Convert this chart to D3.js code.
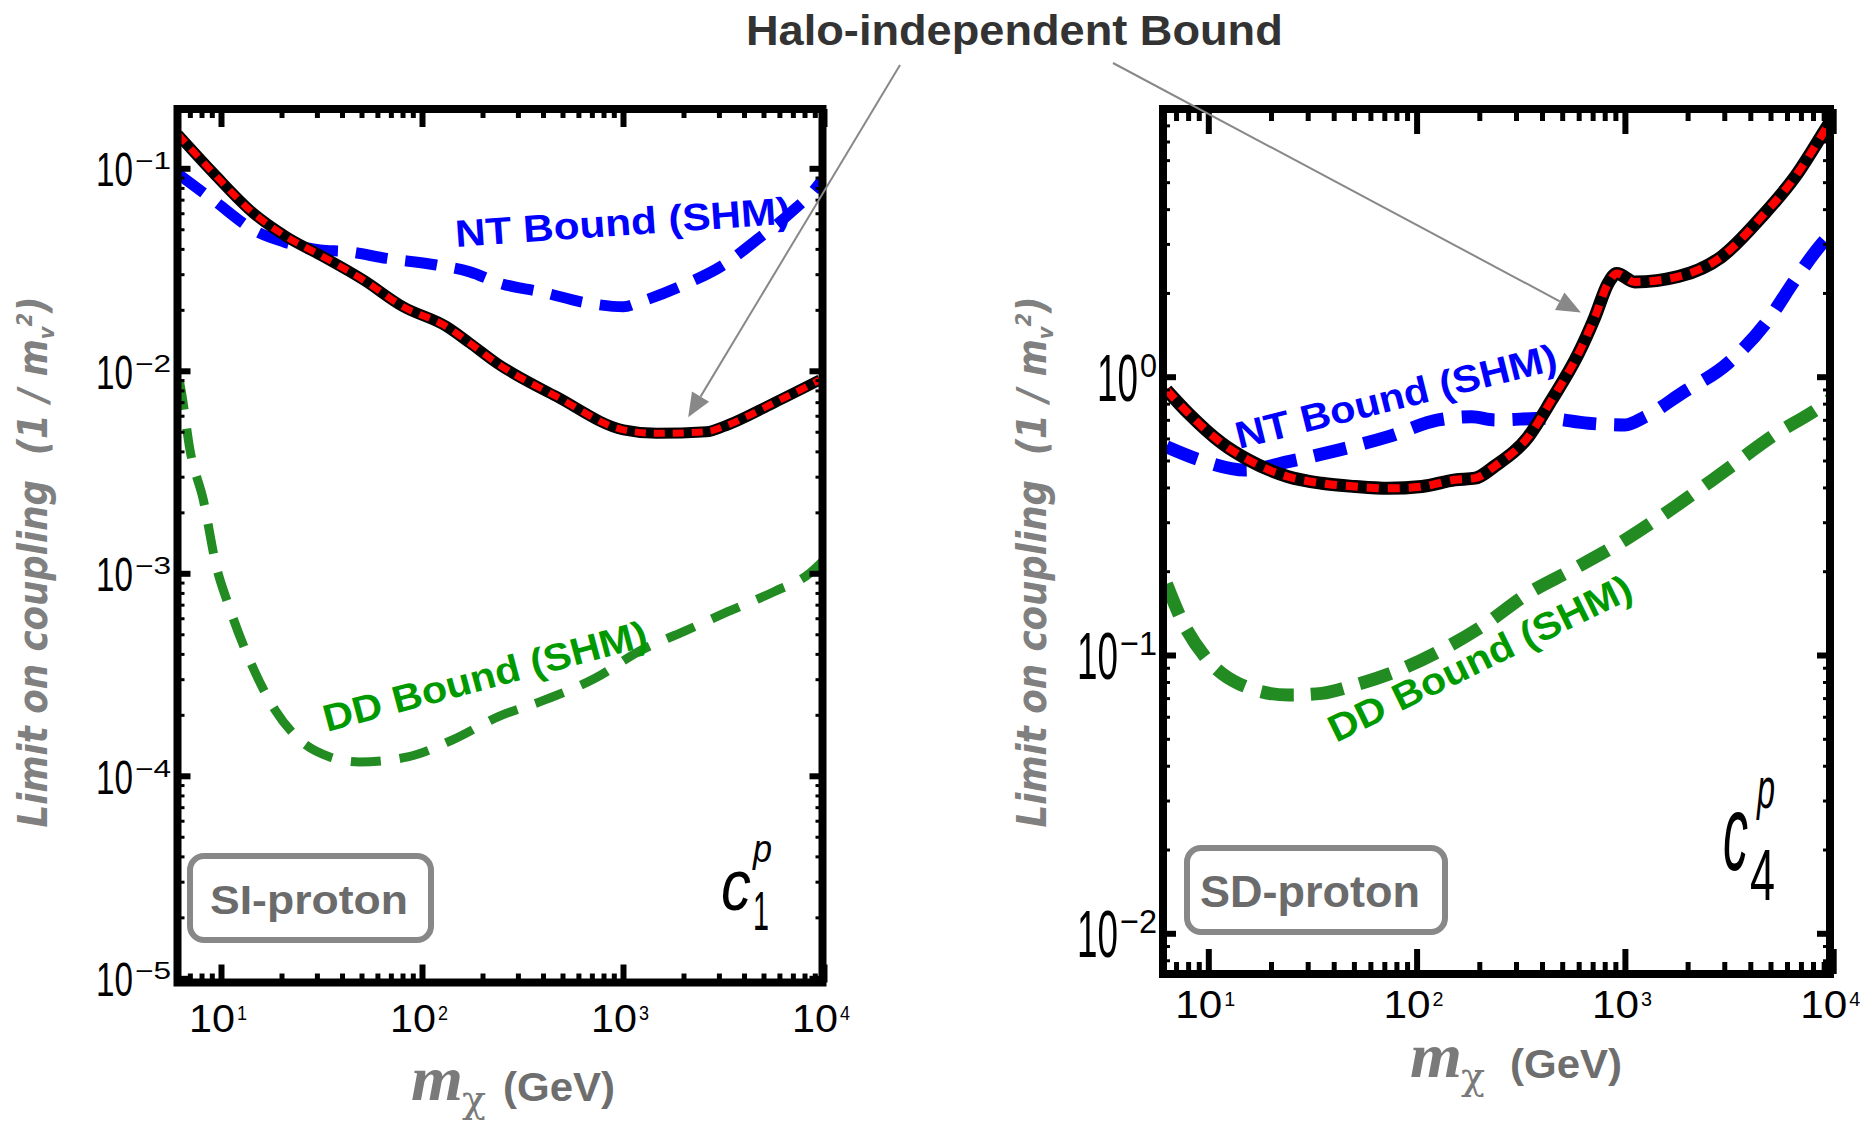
<!DOCTYPE html>
<html>
<head>
<meta charset="utf-8">
<title>Halo-independent Bound</title>
<script src="https://cdn.jsdelivr.net/npm/d3@7"></script>
<style>
  body { margin: 0; background: #fff; overflow: hidden; }
  svg { display: block; }
</style>
</head>
<body>
<script>
var W = 1874, H = 1123;

// mass ticks (GeV), same for both panels
var massTicks = [10, 100, 1000, 10000];
var massTickExp = ["1", "2", "3", "4"];

// ---- SI-proton panel (c1^p) ----
var siYTicks = [1e-1, 1e-2, 1e-3, 1e-4, 1e-5];
var siYTickExp = ["\u22121", "\u22122", "\u22123", "\u22124", "\u22125"];

var siHaloMass  = [6.1, 9.2, 14.5, 21.2, 31.1, 51.1, 80.7, 133, 173, 236, 468, 1005, 1472, 2606, 3155, 5598, 9550];
var siHaloLimit = [0.147, 0.0944, 0.060, 0.0459, 0.0373, 0.0281, 0.0207, 0.0165, 0.0137, 0.0109, 0.00745, 0.00511, 0.00491, 0.00500, 0.00530, 0.00692, 0.00902];

var siNtMass  = [6.1, 9.16, 15.1, 20.4, 31.1, 42.2, 66.7, 118, 173, 245, 386, 685, 1005, 1217, 1995, 3155, 4624, 6776, 9376, 9800];
var siNtLimit = [0.094, 0.0697, 0.0486, 0.0434, 0.0395, 0.0388, 0.0359, 0.0333, 0.0308, 0.0270, 0.0246, 0.0215, 0.0207, 0.0219, 0.0265, 0.0333, 0.0443, 0.0600, 0.0828, 0.088];

var siDdMass  = [6.2, 6.37, 7.01, 8.17, 9.48, 10.9, 14.6, 18.6, 23.7, 34.8, 48.9, 84.9, 141, 240, 408, 726, 1236, 2000, 3319, 5636, 8492, 9800];
var siDdLimit = [0.0090, 0.00774, 0.00406, 0.00230, 0.00108, 6.97e-4, 3.33e-4, 2.11e-4, 1.56e-4, 1.24e-4, 1.17e-4, 1.24e-4, 1.50e-4, 1.96e-4, 2.37e-4, 3.03e-4, 4.18e-4, 5.15e-4, 6.46e-4, 8.11e-4, 1.0e-3, 1.14e-3];

// ---- SD-proton panel (c4^p) ----
var sdYTicks = [1, 1e-1, 1e-2];
var sdYTickExp = ["0", "\u22121", "\u22122"];

var sdHaloMass  = [6.3, 8.02, 11.6, 15.6, 24.2, 35.0, 50.6, 73.1, 106, 153, 191, 238, 344, 445, 598, 718, 832, 914, 1117, 1803, 2915, 4539, 6561, 9141, 9700];
var sdHaloLimit = [0.896, 0.739, 0.577, 0.502, 0.437, 0.414, 0.403, 0.397, 0.403, 0.426, 0.432, 0.478, 0.609, 0.825, 1.21, 1.64, 2.17, 2.35, 2.19, 2.29, 2.70, 3.76, 5.23, 7.70, 8.26];

var sdNtMass  = [6.3, 9.64, 15.0, 24.2, 42.1, 73.1, 127, 184, 238, 413, 667, 1000, 1250, 1875, 3133, 4875, 6561, 9141, 9700];
var sdNtLimit = [0.56, 0.495, 0.462, 0.495, 0.545, 0.609, 0.699, 0.718, 0.699, 0.709, 0.680, 0.671, 0.718, 0.872, 1.12, 1.60, 2.23, 3.10, 3.25];

var sdDdMass  = [6.3, 7.45, 9.64, 13.9, 24.2, 35.0, 50.6, 78.7, 127, 205, 344, 556, 1000, 1738, 2915, 5070, 9141, 9700];
var sdDdLimit = [0.18, 0.1336, 0.0986, 0.0791, 0.0718, 0.0728, 0.0780, 0.0871, 0.1028, 0.1264, 0.1666, 0.202, 0.259, 0.341, 0.450, 0.609, 0.802, 0.83];

var narrow = "'Liberation Sans Narrow', 'Liberation Sans', Arial, sans-serif";
var sans = "'Liberation Sans', Arial, sans-serif";
var serif = "'Liberation Serif', 'DejaVu Serif', serif";

var svg = d3.select("body").append("svg")
    .attr("width", W)
    .attr("height", H);

function zip(a, b) {
    return a.map(function(d, i) { return [d, b[i]]; });
}

function minors(lo, hi) {
    var out = [];
    for (var e = -6; e <= 4; e++) {
        for (var k = 2; k <= 9; k++) {
            var v = k * Math.pow(10, e);
            if (v > lo && v < hi) out.push(v);
        }
    }
    return out;
}

// squeeze a text to a given width with a horizontal scale
function fit(t, x, y, width, rot) {
    var w0 = t.node().getComputedTextLength();
    t.attr("transform", "translate(" + x + "," + y + ")" +
        (rot ? " rotate(" + rot + ")" : "") +
        " scale(" + (width / w0) + ",1)");
    return t;
}

function txt(g, text, font, size, color) {
    return g.append("text")
        .attr("font-family", font)
        .attr("font-size", size)
        .attr("fill", color)
        .text(text);
}

// "10" with a superscript exponent
function powLabel(g, x, y, exp, o) {
    var w = exp.length > 1 ? o.len2 : o.len1;
    var left = o.anchor === "end" ? x - w : x - w / 2;
    fit(txt(g, "10", narrow, o.size, "#000"), left, y, o.baseLen);
    fit(txt(g, exp, narrow, o.supSize, "#000"), left + o.baseLen + 2, y + o.supDy, w - o.baseLen - 2);
}

function drawPanel(p) {
    var x = d3.scaleLog().domain([10, 1e4]).range(p.xRange);
    var y = d3.scaleLog().domain(p.yDomain).range(p.yRange);
    var b = p.box;
    var g = svg.append("g");

    var clipId = "clip" + p.id;
    g.append("clipPath").attr("id", clipId)
        .append("rect")
        .attr("x", b.x0).attr("y", b.y0)
        .attr("width", b.x1 - b.x0).attr("height", b.y1 - b.y0);

    var plot = g.append("g").attr("clip-path", "url(#" + clipId + ")");

    var line = d3.line()
        .x(function(d) { return x(d[0]); })
        .y(function(d) { return y(d[1]); })
        .curve(d3.curveMonotoneX);

    plot.append("path").datum(p.dd)
        .attr("d", line).attr("fill", "none")
        .attr("stroke", "#228b22").attr("stroke-width", p.ddW)
        .attr("stroke-dasharray", p.ddDash);

    plot.append("path").datum(p.nt)
        .attr("d", line).attr("fill", "none")
        .attr("stroke", "#0000ff").attr("stroke-width", p.ntW)
        .attr("stroke-dasharray", p.ntDash);

    plot.append("path").datum(p.halo)
        .attr("d", line).attr("fill", "none")
        .attr("stroke", "#000").attr("stroke-width", p.haloW)
        .attr("stroke-linejoin", "round");

    plot.append("path").datum(p.halo)
        .attr("d", line).attr("fill", "none")
        .attr("stroke", "#ff0000").attr("stroke-width", p.redW)
        .attr("stroke-dasharray", p.redDash);

    // frame
    g.append("rect")
        .attr("x", b.x0).attr("y", b.y0)
        .attr("width", b.x1 - b.x0).attr("height", b.y1 - b.y0)
        .attr("fill", "none").attr("stroke", "#000").attr("stroke-width", 8);

    // ticks, all pointing into the plot
    var xMin = minors(x.invert(b.x0 + 4), x.invert(b.x1 - 4));
    var yLo = y.invert(b.y1 - 4), yHi = y.invert(b.y0 + 4);
    var yMin = minors(yLo, yHi);
    var yMaj = p.yTicks.filter(function(v) { return v >= yLo && v <= yHi; });

    function tickAxis(axis, tx, ty, width) {
        var a = g.append("g").attr("transform", "translate(" + tx + "," + ty + ")").call(axis);
        a.select(".domain").remove();
        a.selectAll("line").attr("stroke", "#000").attr("stroke-width", width);
    }
    tickAxis(d3.axisBottom(x).tickValues(massTicks).tickSize(-p.majorLen).tickFormat(""), 0, b.y1, 6);
    tickAxis(d3.axisBottom(x).tickValues(xMin).tickSize(-p.minorLen).tickFormat(""), 0, b.y1, 5);
    tickAxis(d3.axisTop(x).tickValues(massTicks).tickSize(-p.majorLen).tickFormat(""), 0, b.y0, 6);
    tickAxis(d3.axisTop(x).tickValues(xMin).tickSize(-p.minorLen).tickFormat(""), 0, b.y0, 5);
    tickAxis(d3.axisLeft(y).tickValues(yMaj).tickSize(-13).tickFormat(""), b.x0, 0, 6);
    tickAxis(d3.axisLeft(y).tickValues(yMin).tickSize(-7).tickFormat(""), b.x0, 0, 3);
    tickAxis(d3.axisRight(y).tickValues(yMaj).tickSize(-13).tickFormat(""), b.x1, 0, 6);
    tickAxis(d3.axisRight(y).tickValues(yMin).tickSize(-7).tickFormat(""), b.x1, 0, 3);

    // tick labels
    massTicks.forEach(function(v, i) {
        powLabel(g, x(v) - 3, p.xLab.base, massTickExp[i], p.xLab);
    });
    p.yTicks.forEach(function(v, i) {
        powLabel(g, p.yLab.right, y(v) + p.yLab.shift, p.yTickExp[i], p.yLab);
    });

    // y axis title
    var yt = g.append("text")
        .attr("text-anchor", "middle")
        .attr("font-family", "'DejaVu Sans', sans-serif")
        .attr("font-weight", "bold").attr("font-style", "italic")
        .attr("font-size", 40).attr("fill", "#808080");
    yt.append("tspan").text("Limit on coupling\u00a0\u00a0(1 / m");
    yt.append("tspan").attr("font-size", 22).attr("dy", 7).text("v");
    yt.append("tspan").attr("font-size", 22).attr("dy", -22).text("2");
    yt.append("tspan").attr("dy", 15).text(")");
    fit(yt, p.yTitleX, 562, 531, -90);

    // x axis title
    var xt = p.xTitle;
    fit(txt(g, "m", serif, 64, "#7a7a7a").attr("font-weight", "bold").attr("font-style", "italic"),
        xt.m, xt.base, 52);
    fit(txt(g, "\u03c7", "'DejaVu Serif', serif", 38, "#7a7a7a"), xt.m + 51, xt.base + 12, 24);
    fit(txt(g, "(GeV)", narrow, 40, "#6e6e6e").attr("font-weight", "bold"), xt.gev, xt.base + 1, 112);

    // curve labels
    function curveLabel(o, text, color) {
        fit(txt(g, text, sans, 38, color).attr("font-weight", "bold"), o.x, o.y, o.len, o.a);
    }
    curveLabel(p.ntLabel, "NT Bound (SHM)", "#0000ff");
    curveLabel(p.ddLabel, "DD Bound (SHM)", "#009a00");

    // interaction box
    var bx = p.tag;
    g.append("rect")
        .attr("x", bx.x).attr("y", bx.y).attr("width", bx.w).attr("height", bx.h)
        .attr("rx", 14).attr("ry", 14)
        .attr("fill", "#fff").attr("stroke", "#888").attr("stroke-width", 6);
    fit(txt(g, bx.text, narrow, bx.size, "#6b6b6b").attr("font-weight", "bold"), bx.tx, bx.ty, bx.tlen);

    // operator label c_i^p
    var c = p.coef;
    fit(txt(g, "c", narrow, c.cSize, "#000").attr("font-style", "italic"), c.cx, c.cy, c.cLen);
    fit(txt(g, "p", narrow, c.pSize, "#000").attr("font-style", "italic"), c.px, c.py, c.pLen);
    fit(txt(g, c.index, narrow, c.iSize, "#000"), c.ix, c.iy, c.iLen);

    return { x: x, y: y };
}

var si = drawPanel({
    id: "si",
    xRange: [221, 824],
    yDomain: [1e-1, 1e-5], yRange: [168.3, 978.3],
    box: { x0: 177.5, x1: 822.5, y0: 109, y1: 982.5 },
    yTicks: siYTicks, yTickExp: siYTickExp,
    halo: zip(siHaloMass, siHaloLimit),
    nt: zip(siNtMass, siNtLimit),
    dd: zip(siDdMass, siDdLimit),
    haloW: 11, redW: 7, redDash: "11,8",
    ntW: 11, ntDash: "32,18",
    ddW: 9, ddDash: "30,19",
    majorLen: 18, minorLen: 9,
    xLab: { anchor: "middle", base: 1032, size: 38, supSize: 20, supDy: -12, len1: 58, len2: 58, baseLen: 46 },
    yLab: { anchor: "end", right: 171, shift: 18, size: 49, supSize: 24, supDy: -17, len1: 56, len2: 75, baseLen: 37 },
    yTitleX: 47,
    xTitle: { m: 411, gev: 503, base: 1100 },
    ntLabel: { x: 456, y: 247, a: -4, len: 336 },
    ddLabel: { x: 327, y: 732, a: -15, len: 334 },
    tag: { x: 190, y: 856, w: 241, h: 84, text: "SI-proton", tx: 210, ty: 914, size: 40, tlen: 198 },
    coef: { cx: 721, cy: 910, cSize: 72, cLen: 30, px: 753, py: 862, pSize: 38, pLen: 19,
            ix: 753, iy: 930, iSize: 55, iLen: 16, index: "1" }
});

var sd = drawPanel({
    id: "sd",
    xRange: [1208.3, 1833.2],
    yDomain: [1, 1e-2], yRange: [376.7, 933.3],
    box: { x0: 1163, x1: 1830, y0: 109, y1: 974 },
    yTicks: sdYTicks, yTickExp: sdYTickExp,
    halo: zip(sdHaloMass, sdHaloLimit),
    nt: zip(sdNtMass, sdNtLimit),
    dd: zip(sdDdMass, sdDdLimit),
    haloW: 13, redW: 8, redDash: "12,9",
    ntW: 13, ntDash: "33,18",
    ddW: 13, ddDash: "33,17",
    majorLen: 25, minorLen: 12,
    xLab: { anchor: "middle", base: 1018, size: 38, supSize: 20, supDy: -12, len1: 60, len2: 60, baseLen: 47 },
    yLab: { anchor: "end", right: 1157, shift: 24, size: 66, supSize: 34, supDy: -24, len1: 60, len2: 80, baseLen: 41 },
    yTitleX: 1046,
    xTitle: { m: 1410, gev: 1510, base: 1077 },
    ntLabel: { x: 1239, y: 449, a: -14, len: 330 },
    ddLabel: { x: 1336, y: 743, a: -26, len: 333 },
    tag: { x: 1187, y: 848, w: 258, h: 84, text: "SD-proton", tx: 1200, ty: 907, size: 44, tlen: 220 },
    coef: { cx: 1723, cy: 870, cSize: 107, cLen: 25, px: 1757, py: 808, pSize: 58, pLen: 18,
            ix: 1750, iy: 900, iSize: 72, iLen: 25, index: "4" }
});

// title and arrows to the halo-independent curves
fit(txt(svg, "Halo-independent Bound", narrow, 43, "#333").attr("font-weight", "bold"), 746, 45, 537);

function arrow(x1, y1, x2, y2) {
    var dx = x2 - x1, dy = y2 - y1, L = Math.sqrt(dx * dx + dy * dy);
    var ux = dx / L, uy = dy / L, len = 24, hw = 10;
    var bx = x2 - ux * len, by = y2 - uy * len;
    svg.append("line")
        .attr("x1", x1).attr("y1", y1).attr("x2", bx).attr("y2", by)
        .attr("stroke", "#888").attr("stroke-width", 2);
    svg.append("path")
        .attr("d", "M" + x2 + "," + y2 +
                   "L" + (bx - uy * hw) + "," + (by + ux * hw) +
                   "L" + (bx + uy * hw) + "," + (by - ux * hw) + "Z")
        .attr("fill", "#888");
}
arrow(900, 65, si.x(2110), si.y(0.0059));
arrow(1113, 63, sd.x(615), sd.y(1.70));
</script>
</body>
</html>
